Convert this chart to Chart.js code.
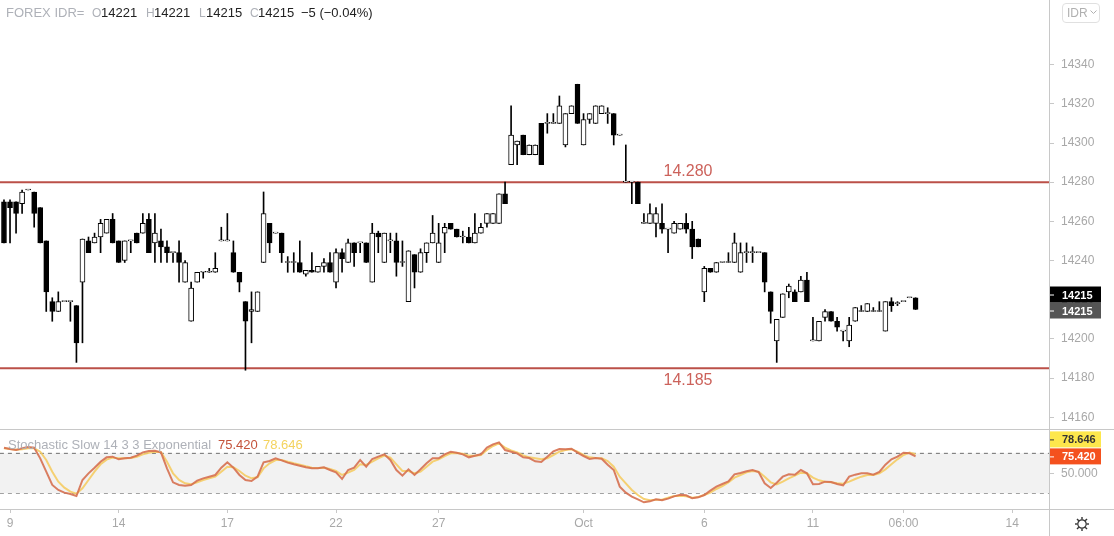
<!DOCTYPE html>
<html>
<head>
<meta charset="utf-8">
<script src="https://cdn.jsdelivr.net/npm/chart.js@4.4.1/dist/chart.umd.min.js"></script>
<style>
  html, body { margin: 0; padding: 0; background: #fff; }
  body { width: 1114px; height: 536px; position: relative; overflow: hidden; font-family: 'Liberation Sans', Arial, sans-serif; }
  canvas { position: absolute; left: 0; }
  #main { top: 0; }
  #stoch { top: 429px; }
  .t { position: absolute; white-space: nowrap; font-size: 13px; line-height: 16px; }
  .g { color: #aeb1b8; }
  .k { color: #222; }
  .hline { position: absolute; left: 0; width: 1114px; height: 1px; background: #c8c8c8; }
  .vline { position: absolute; left: 1049px; top: 0; width: 1px; height: 536px; background: #c8c8c8; }
</style>
</head>
<body>
<canvas id="main" width="1114" height="429"></canvas>
<canvas id="stoch" width="1114" height="107"></canvas>
<div class="hline" style="top:429px"></div>
<div class="hline" style="top:509px"></div>
<div class="vline"></div>

<div class="t g" style="left:6px;top:5px">FOREX IDR=</div>
<div class="t g" style="left:92px;top:5px;font-size:12px">O</div><div class="t k" style="left:101px;top:5px">14221</div>
<div class="t g" style="left:146px;top:5px;font-size:12px">H</div><div class="t k" style="left:154px;top:5px">14221</div>
<div class="t g" style="left:199px;top:5px;font-size:12px">L</div><div class="t k" style="left:206px;top:5px">14215</div>
<div class="t g" style="left:250px;top:5px;font-size:12px">C</div><div class="t k" style="left:258px;top:5px">14215</div>
<div class="t k" style="left:301px;top:5px">−5 (−0.04%)</div>

<div class="t g" style="left:8px;top:437px">Stochastic Slow 14 3 3 Exponential</div>
<div class="t" style="left:218px;top:437px;color:#c4533b">75.420</div>
<div class="t" style="left:263px;top:437px;color:#f4d35e">78.646</div>

<div style="position:absolute;left:1062px;top:3px;width:38px;height:20px;border:1px solid #e0e0e0;border-radius:4px;box-sizing:border-box;font-size:12px;line-height:18px;color:#b0b0b0;padding-left:4px;white-space:nowrap">IDR<svg width="7" height="5" style="margin-left:2px;vertical-align:2px"><polyline points="0.5,0.5 3.5,3.5 6.5,0.5" fill="none" stroke="#b0b0b0" stroke-width="1"/></svg></div>

<svg style="position:absolute;left:1074px;top:516px" width="16" height="16" viewBox="0 0 16 16">
  <circle cx="8" cy="8" r="4.2" fill="none" stroke="#333" stroke-width="1.2"/>
  <g stroke="#333" stroke-width="1.4">
    <line x1="8" y1="1" x2="8" y2="3.5"/><line x1="8" y1="12.5" x2="8" y2="15"/>
    <line x1="1" y1="8" x2="3.5" y2="8"/><line x1="12.5" y1="8" x2="15" y2="8"/>
    <line x1="3" y1="3" x2="4.8" y2="4.8"/><line x1="11.2" y1="11.2" x2="13" y2="13"/>
    <line x1="3" y1="13" x2="4.8" y2="11.2"/><line x1="11.2" y1="4.8" x2="13" y2="3"/>
  </g>
</svg>

<script>
// candles, one per bar (bar index = position on the time axis)
const opens = [14270,14270,14270,14269,14276,14275,14267,14250,14219,14214,14219,14219,14217,14229,14250,14249,14252,14254,14261,14250,
  14240,14250,14254,14254,14261,14249,14250,14247,14244,14244,14229,14209,14229,14234,14234,14234,14250,14250,14244,14234,
  14219,14214,14214,14239,14259,14254,14254,14239,14239,14239,14233,14235,14234,14237,14239,14229,14244,14239,14249,14249,
  14249,14229,14254,14239,14250,14250,14239,14219,14243,14234,14244,14249,14239,14254,14259,14256,14252,14252,14249,14254,
  14259,14259,14259,14274,14289,14299,14304,14294,14294,14310,14310,14310,14310,14299,14315,14330,14299,14312,14310,14315,
  14315,14315,14304,14280,14280,14280,14259,14259,14259,14259,14256,14254,14256,14259,14256,14251,14224,14236,14234,14239,
  14239,14239,14234,14244,14244,14244,14244,14224,14199,14211,14224,14224,14224,14230,14199,14199,14211,14214,14209,14204,
  14199,14209,14214,14214,14214,14214,14204,14219,14218,14219,14221,14221];
const highs = [14271,14271,14270,14276,14276,14275,14267,14250,14221,14224,14219,14219,14217,14251,14252,14254,14261,14261,14264,14250,
  14250,14250,14254,14264,14264,14264,14256,14250,14244,14250,14240,14229,14234,14234,14236,14244,14257,14264,14250,14234,
  14219,14224,14224,14275,14259,14254,14254,14242,14244,14250,14235,14244,14237,14241,14244,14246,14246,14251,14249,14249,
  14249,14259,14255,14254,14254,14254,14250,14245,14243,14246,14249,14263,14259,14259,14259,14256,14255,14257,14264,14259,
  14264,14264,14274,14280,14319,14301,14304,14299,14299,14310,14315,14315,14324,14315,14319,14330,14315,14315,14319,14319,
  14318,14315,14304,14299,14280,14280,14264,14269,14267,14269,14256,14260,14259,14264,14260,14251,14237,14236,14239,14239,
  14244,14254,14249,14249,14247,14244,14244,14224,14210,14223,14228,14225,14232,14234,14211,14209,14215,14214,14211,14204,
  14211,14216,14217,14218,14216,14219,14219,14221,14219,14219,14221,14221];
const lows = [14249,14249,14254,14264,14276,14257,14249,14214,14209,14214,14219,14209,14188,14198,14244,14249,14244,14254,14249,14239,
  14239,14244,14249,14254,14244,14239,14239,14239,14239,14229,14229,14209,14229,14231,14234,14234,14250,14250,14234,14224,
  14184,14198,14214,14239,14244,14254,14239,14234,14234,14234,14232,14234,14234,14234,14234,14226,14234,14239,14237,14244,
  14239,14229,14244,14239,14244,14232,14237,14219,14226,14234,14239,14249,14239,14244,14256,14252,14249,14249,14249,14254,
  14257,14259,14259,14269,14289,14289,14294,14294,14294,14289,14305,14310,14310,14298,14315,14310,14299,14310,14310,14315,
  14310,14299,14304,14280,14269,14269,14259,14259,14252,14254,14244,14254,14256,14254,14241,14247,14219,14234,14234,14239,
  14239,14239,14234,14239,14239,14244,14224,14208,14188,14211,14221,14219,14224,14219,14199,14199,14209,14209,14204,14199,
  14196,14209,14214,14214,14214,14214,14204,14214,14217,14219,14221,14215];
const closes = [14249,14267,14264,14275,14276,14264,14249,14224,14214,14219,14219,14219,14198,14251,14244,14252,14259,14261,14249,14239,
  14250,14250,14249,14259,14244,14254,14247,14244,14244,14239,14239,14226,14234,14234,14234,14236,14250,14250,14234,14229,
  14209,14215,14224,14264,14249,14254,14244,14239,14239,14234,14235,14234,14237,14239,14234,14244,14241,14249,14244,14249,
  14239,14254,14252,14254,14250,14239,14239,14245,14234,14244,14249,14254,14249,14257,14256,14252,14252,14249,14254,14257,
  14264,14264,14274,14269,14304,14301,14294,14299,14299,14289,14310,14310,14319,14315,14319,14310,14312,14315,14319,14319,
  14315,14304,14304,14280,14280,14269,14259,14264,14264,14256,14256,14259,14259,14256,14247,14247,14236,14234,14239,14239,
  14239,14249,14244,14244,14244,14244,14229,14214,14210,14223,14227,14219,14230,14219,14199,14209,14214,14209,14206,14204,
  14207,14216,14214,14218,14214,14214,14219,14217,14218,14219,14221,14215];

// stochastic slow 14 3 3, %K and %D per bar
const stochK = [88.5,86.5,85,87.5,89.5,88.5,72.5,52.5,32.5,25,21,19,16,40,50,58.5,67.5,74,75,71,
  72.5,73.5,76.5,81.5,83.5,84,81.5,57.5,36.5,32.5,31.5,32.5,39,42.5,45,47.5,58.5,66.5,58.5,47.5,
  40,38.5,45,66.5,68.5,72.5,69.5,66,63.5,61.5,59,57.5,57.5,59,55,51.5,41.5,55,58.5,70,
  60,71.5,75,78.5,70,55,46.5,56,47.5,56,65,72.5,72.5,78.5,82.5,81,78.5,74,76.5,78.5,
  88.5,93.5,96.5,85,82.5,80,74,73,68,67,75,83,86.5,86,87,81,76,71.5,73,72,
  63,55,30,21,15,11,6.5,8,11,9.5,12,15.5,18,17,12.5,14,17.5,24,30,34,
  38,48.5,50.5,53,55,52,35,28,36,45,48.5,48,55,50,33.5,34,37.5,37,34,32,
  45,48,50,50,48,52,63,71,75,81,80,75.42];
const stochD = [87.5,86.5,85.5,86,87.5,87.5,82.5,70,52.5,37.5,28.5,22.5,19.5,27.5,40,52.5,63.5,70.5,73.5,72.5,
  72.5,73,75,78.5,81,82.5,82,67.5,50,40,35,33.5,36.5,40,42.5,45,52.5,60,59,53.5,
  46.5,42.5,44,57.5,65,70,70,67.5,65,63,60.5,58.5,58,58.5,56.5,53.5,47.5,51,55,63.5,
  62.5,67.5,72.5,76.5,73.5,63.5,53.5,53.5,50,52.5,60,67.5,71,76,80,80.5,79.5,76.5,76.5,77.5,
  85,91,95,88.5,84.5,81.5,77,74,72.5,71,72.5,77.5,82.5,85,86,82.5,77.5,74,73,72.5,
  68.5,60,45,35,25,17.5,11.5,9.5,10.5,10.5,13.5,16,16.5,15.5,13.5,14.5,17.5,21,26.5,31,
  36.5,43.5,47.5,51.5,53.5,52.5,45,36.5,33.5,37.5,42.5,46.5,51,50,43.5,39.5,37.5,36.5,35,34.5,
  37.5,41.5,45,47.5,47.5,50,56,63.5,71,77.5,81,78.646];

const levels = [14280, 14185];
const levelText = ['14.280', '14.185'];
const priceTicks = [14160, 14180, 14200, 14220, 14240, 14260, 14280, 14300, 14320, 14340];
const timeIdx = [1, 19, 37, 55, 72, 96, 116, 134, 149, 167];
const timeLabels = ['9', '14', '17', '22', '27', 'Oct', '6', '11', '06:00', '14'];
const bandLevels = [80, 20];
const lastK = 75.420, lastD = 78.646;

const xMin = -0.66, xMax = 173.1;
const axisFont = { family: 'Liberation Sans', size: 12 };
const axisColor = '#a8a8a8';
const lineGray = '#c8c8c8';

function badge(ctx, y, text, bg, fg) {
  ctx.save();
  ctx.fillStyle = bg;
  ctx.fillRect(1050, y - 8, 51, 16);
  ctx.fillStyle = fg;
  ctx.fillRect(1050, y, 4, 1);
  ctx.font = 'bold 11px "Liberation Sans"';
  ctx.textBaseline = 'middle';
  ctx.textAlign = 'left';
  ctx.fillText(text, 1062, y + 1);
  ctx.restore();
}

const mainExtras = {
  id: 'mainExtras',
  afterDraw(chart) {
    const { ctx, scales } = chart;
    ctx.save();
    ctx.font = '16px "Liberation Sans"';
    ctx.fillStyle = '#cc625b';
    ctx.textAlign = 'center';
    ctx.textBaseline = 'middle';
    const lx = scales.x.getPixelForValue(113.3);
    ctx.fillText(levelText[0], lx, scales.y.getPixelForValue(levels[0]) - 11);
    ctx.fillText(levelText[1], lx, scales.y.getPixelForValue(levels[1]) + 12);
    ctx.restore();
    const last = closes[closes.length - 1];
    const py = scales.y.getPixelForValue(last);
    badge(ctx, py + 1, String(last), '#555555', '#ffffff');
    badge(ctx, py - 15, String(last), '#000000', '#ffffff');
  }
};

const stochExtras = {
  id: 'stochExtras',
  afterDraw(chart) {
    const { ctx, scales } = chart;
    const ky = scales.y.getPixelForValue(lastK);
    badge(ctx, ky, lastK.toFixed(3), '#f4511e', '#ffffff');
    badge(ctx, ky - 17, lastD.toFixed(3), '#fde74c', '#333333');
  }
};

const levelSets = levels.map(v => ({
  type: 'line',
  data: [{ x: -2, y: v }, { x: 176, y: v }],
  borderColor: '#bb5048',
  borderWidth: 2,
  pointRadius: 0
}));

new Chart(document.getElementById('main'), {
  type: 'bar',
  data: {
    datasets: [
      {
        data: opens.map((o, i) => ({ x: i, y: [o, closes[i]] })),
        backgroundColor: opens.map((o, i) => closes[i] >= o ? '#ffffff' : '#000000'),
        borderColor: '#000000',
        borderWidth: 1,
        borderSkipped: false,
        barThickness: 5,
        minBarLength: 1,
        grouped: false
      },
      {
        data: lows.map((l, i) => ({ x: i, y: [l, highs[i]] })),
        backgroundColor: '#000000',
        borderWidth: 0,
        barThickness: 1,
        grouped: false
      },
      ...levelSets
    ]
  },
  options: {
    responsive: false,
    animation: false,
    events: [],
    layout: { padding: 0 },
    plugins: { legend: { display: false }, tooltip: { enabled: false } },
    scales: {
      x: { type: 'linear', min: xMin, max: xMax, offset: false, display: false },
      y: {
        position: 'right', min: 14154, max: 14373,
        afterBuildTicks: s => { s.ticks = priceTicks.map(v => ({ value: v })); },
        afterFit: s => { s.width = 65; s.paddingTop = 0; s.paddingBottom = 0; },
        ticks: { color: axisColor, font: axisFont, padding: 7, callback: v => String(v) },
        grid: { drawOnChartArea: false, tickLength: 5, color: lineGray },
        border: { color: lineGray }
      }
    }
  },
  plugins: [mainExtras]
});

const bandSets = bandLevels.map((v, i) => ({
  data: [{ x: -2, y: v }, { x: 176, y: v }],
  borderColor: '#6f6f6f',
  borderWidth: 1,
  borderDash: [4, 4],
  pointRadius: 0,
  fill: i === 0 ? '+1' : false,
  backgroundColor: '#f2f2f2'
}));

new Chart(document.getElementById('stoch'), {
  type: 'line',
  data: {
    datasets: [
      { data: stochK.map((v, i) => ({ x: i, y: v })), borderColor: 'rgba(214,112,80,0.9)', borderWidth: 2, pointRadius: 0, tension: 0 },
      { data: stochD.map((v, i) => ({ x: i, y: v })), borderColor: 'rgba(245,204,100,0.9)', borderWidth: 2, pointRadius: 0, tension: 0 },
      ...bandSets
    ]
  },
  options: {
    responsive: false,
    animation: false,
    events: [],
    layout: { padding: 0 },
    plugins: { legend: { display: false }, tooltip: { enabled: false } },
    scales: {
      x: {
        type: 'linear', min: xMin, max: xMax, offset: false,
        afterBuildTicks: s => { s.ticks = timeIdx.map(v => ({ value: v })); },
        afterFit: s => { s.height = 27; s.paddingLeft = 0; s.paddingRight = 0; },
        ticks: { color: axisColor, font: axisFont, padding: 3, autoSkip: false, maxRotation: 0, callback: (v, i) => timeLabels[i] },
        grid: { drawOnChartArea: false, tickLength: 4, color: lineGray },
        border: { color: lineGray }
      },
      y: {
        position: 'right', min: -3.5, max: 116.5,
        afterBuildTicks: s => { s.ticks = [{ value: 50 }]; },
        afterFit: s => { s.width = 65; s.paddingTop = 0; s.paddingBottom = 0; },
        ticks: { color: axisColor, font: axisFont, padding: 7, callback: v => v.toFixed(3) },
        grid: { drawOnChartArea: false, tickLength: 5, color: lineGray },
        border: { color: lineGray }
      }
    }
  },
  plugins: [stochExtras]
});
</script>
</body>
</html>
